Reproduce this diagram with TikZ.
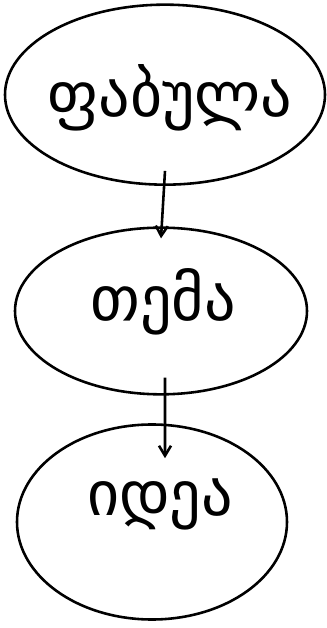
\documentclass[tikz,border=0pt]{standalone}
\usepackage{fontspec}
\newfontfamily\geofont{DejaVu Sans}
\usetikzlibrary{shapes.geometric, arrows.meta}

\begin{document}
\begin{tikzpicture}[line width=2.2pt,
  oval/.style={draw, ellipse, inner sep=0pt},
  word/.style={font=\geofont\fontsize{53}{56}\selectfont},
  link/.style={-{Straight Barb[length=3mm,width=3.6mm]}}]
\useasboundingbox (0,0) rectangle (9.81,18.84);
% Ovals
\node[oval, minimum width=9.6cm, minimum height=5.4cm] (fab) at (4.95,16.0) {};
\node[oval, minimum width=8.76cm, minimum height=5.0cm] (tem) at (4.83,9.51) {};
\node[oval, minimum width=8.1cm, minimum height=5.85cm] (ide) at (4.56,3.18) {};
% Words
\node[word] (fabw) at (5.1,15.9) {ფაბულა};
\node[word] (temw) at (4.9,9.8) {თემა};
\node[word] (idew) at (4.8,3.7) {იდეა};
% Arrows
\draw[link] ([yshift=4.5mm]fab.south) -- ([yshift=-3.6mm]tem.north);
\draw[link] ([xshift=1.2mm,yshift=5.4mm]tem.south) -- ([xshift=3.9mm,yshift=-10.5mm]ide.north);
\end{tikzpicture}
\end{document}
